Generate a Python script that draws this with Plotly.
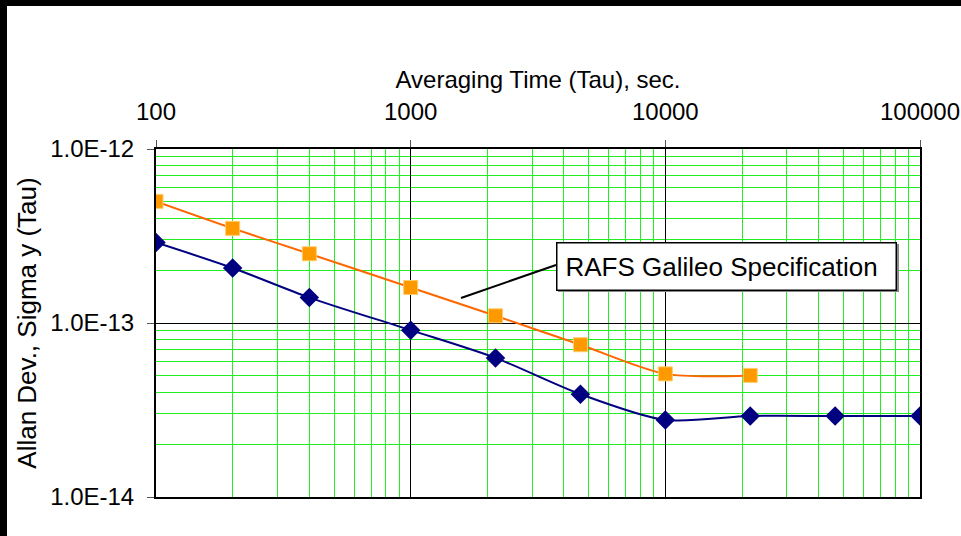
import plotly.graph_objects as go

# Averaging times (s) and Allan deviation values
tau_spec = [100, 200, 400, 1000, 2154, 4642, 10000, 21544]
sigma_spec = [5.0e-13, 3.5e-13, 2.5e-13, 1.6e-13, 1.1e-13, 7.5e-14, 5.1e-14, 5.0e-14]

tau_meas = [100, 200, 400, 1000, 2154, 4642, 10000, 21544, 46416, 100000]
sigma_meas = [2.9e-13, 2.07e-13, 1.4e-13, 9.1e-14, 6.3e-14, 3.9e-14, 2.77e-14,
              2.92e-14, 2.92e-14, 2.92e-14]

x_ticks = [100, 1000, 10000, 100000]
x_ticktext = ["100", "1000", "10000", "100000"]
y_ticks = [1e-14, 1e-13, 1e-12]
y_ticktext = ["1.0E-14", "1.0E-13", "1.0E-12"]

FONT = "Liberation Sans, Arial, sans-serif"
W, H = 961, 536
ML, MR, MT, MB = 156, 41, 149, 39
PW, PH = W - ML - MR, H - MT - MB


def px_x(px):
    return (px - ML) / PW


def px_y(py):
    return (H - MB - py) / PH


fig = go.Figure()

fig.add_trace(go.Scatter(
    x=tau_meas, y=sigma_meas, mode="lines+markers",
    line=dict(color="#000080", width=2, shape="spline", smoothing=0.8),
    marker=dict(symbol="diamond", size=15, color="#000080",
                line=dict(color="#000080", width=0)),
    showlegend=False,
))
fig.add_trace(go.Scatter(
    x=tau_spec, y=sigma_spec, mode="lines+markers",
    line=dict(color="#FF6600", width=2, shape="spline", smoothing=0.8),
    marker=dict(symbol="square", size=14, color="#FF9900",
                line=dict(color="#FFCC66", width=1)),
    showlegend=False,
))

axis_common = dict(
    type="log",
    showgrid=True, gridcolor="#000000", gridwidth=1,
    minor=dict(dtick="D1", showgrid=True, gridcolor="#22ee22", gridwidth=1,
               ticks=""),
    showline=True, linecolor="#000000", linewidth=2, mirror=True,
    ticks="outside", ticklen=7, tickcolor="#555555", tickwidth=1,
    zeroline=False,
    tickfont=dict(family=FONT, size=24, color="#000000"),
)

fig.update_layout(
    width=W, height=H, autosize=False,
    margin=dict(l=ML, r=MR, t=MT, b=MB, pad=0, autoexpand=False),
    paper_bgcolor="#ffffff", plot_bgcolor="#ffffff",
    xaxis=dict(
        axis_common, side="top", range=[2, 5], automargin=False,
        tickvals=x_ticks, ticktext=x_ticktext, ticklabelstandoff=10,
        title=dict(text="Averaging Time (Tau), sec.", standoff=3,
                   font=dict(family=FONT, size=24, color="#000000")),
    ),
    yaxis=dict(
        axis_common, range=[-14, -12], automargin=False,
        tickvals=y_ticks, ticktext=y_ticktext, ticklabelstandoff=8,
        title=dict(text="Allan Dev., Sigma y (Tau)", standoff=6,
                   font=dict(family=FONT, size=26, color="#000000")),
    ),
)

# Outer frame strips along the top and left edges
fig.add_shape(type="rect", xref="paper", yref="paper",
              x0=px_x(0), x1=px_x(W), y0=px_y(6), y1=px_y(0),
              fillcolor="#000000", line=dict(width=0), layer="above")
fig.add_shape(type="rect", xref="paper", yref="paper",
              x0=px_x(0), x1=px_x(7), y0=px_y(H), y1=px_y(0),
              fillcolor="#000000", line=dict(width=0), layer="above")

# Leader line to the specification curve
fig.add_shape(type="line", xref="paper", yref="paper",
              x0=px_x(461), y0=px_y(298), x1=px_x(556), y1=px_y(265),
              line=dict(color="#000000", width=2), layer="above")

# Label box shadow and label
fig.add_shape(type="rect", xref="paper", yref="paper",
              x0=px_x(558), x1=px_x(899), y0=px_y(292), y1=px_y(244),
              fillcolor="#888888", line=dict(width=0), layer="above")
fig.add_annotation(
    xref="paper", yref="paper", x=px_x(556), y=px_y(266),
    xanchor="left", yanchor="middle",
    text="RAFS Galileo Specification", showarrow=False,
    font=dict(family=FONT, size=26, color="#000000"),
    align="left", width=322, height=30, borderpad=8,
    bgcolor="#ffffff", bordercolor="#000000", borderwidth=1.5,
)

fig.write_html("out.html")
